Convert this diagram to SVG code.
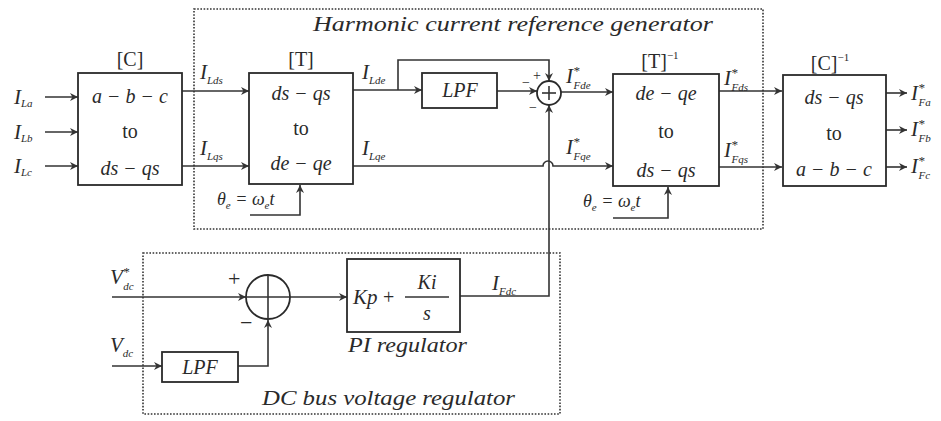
<svg xmlns="http://www.w3.org/2000/svg" width="941" height="421" viewBox="0 0 941 421">
<style>
.blk{fill:#fff;stroke:#2a2a2a;stroke-width:1.8}
.dot{fill:none;stroke:#333;stroke-width:1.6;stroke-dasharray:1.6 1.6}
.ln{fill:none;stroke:#333;stroke-width:1.6}
.ar{fill:none;stroke:#333;stroke-width:1.6;marker-end:url(#ah)}
text{font-family:"Liberation Serif","Times New Roman",serif;fill:#2a2a2a}
.m{font-style:italic;font-size:20px;text-anchor:middle}
.u{font-size:20px;text-anchor:middle}
.I{font-style:italic;font-size:21px}
.sb{font-size:11px}
.sp{font-size:13px}
.sg{font-size:14px}
.cap{font-style:italic;font-size:21px}
</style>
<defs>
<marker id="ah" viewBox="0 0 10 10" refX="10" refY="5" markerWidth="10" markerHeight="8" markerUnits="userSpaceOnUse" orient="auto">
<path d="M0,0 L10,5 L0,10 L3,5 Z" fill="#333"/>
</marker>
</defs>
<rect width="941" height="421" fill="#fff"/>

<g id="frames">
<rect class="dot" x="194" y="9" width="569" height="220"/>
<text class="cap" x="313" y="31" textLength="400" lengthAdjust="spacingAndGlyphs">Harmonic current reference generator</text>
<rect class="dot" x="143" y="253" width="417" height="161"/>
<text class="cap" x="262" y="405" textLength="253" lengthAdjust="spacingAndGlyphs">DC bus voltage regulator</text>
</g>

<g id="connectors">
<line class="ar" x1="45" y1="97" x2="78" y2="97"/>
<line class="ar" x1="45" y1="132" x2="78" y2="132"/>
<line class="ar" x1="45" y1="166" x2="78" y2="166"/>
<line class="ar" x1="182" y1="91" x2="249" y2="91"/>
<line class="ar" x1="182" y1="166" x2="249" y2="166"/>
<line class="ar" x1="353" y1="90" x2="422" y2="90"/>
<polyline class="ar" points="398,90 398,60 549,60 549,81"/>
<line class="ar" x1="497" y1="91" x2="537" y2="91"/>
<line class="ar" x1="561" y1="92" x2="613" y2="92"/>
<path class="ar" d="M353,166 L543,166 A5,5 0 0 1 553,166 L613,166"/>
<polyline class="ar" points="460,296 549,296 549,105"/>
<polyline class="ar" points="250,215 300,215 300,185"/>
<polyline class="ar" points="613,218 668,218 668,187"/>
<line class="ar" x1="719" y1="91" x2="782" y2="91"/>
<line class="ar" x1="719" y1="167" x2="782" y2="167"/>
<line class="ar" x1="886" y1="93" x2="907" y2="93"/>
<line class="ar" x1="886" y1="130" x2="907" y2="130"/>
<line class="ar" x1="886" y1="167" x2="907" y2="167"/>
<line class="ar" x1="112" y1="297" x2="246" y2="297"/>
<line class="ar" x1="290" y1="297" x2="347" y2="297"/>
<line class="ar" x1="112" y1="366" x2="162" y2="366"/>
<polyline class="ar" points="238,366 268,366 268,320"/>
</g>

<g id="inputs">
<text class="I" x="14" y="104">I<tspan class="sb" dy="3">La</tspan></text>
<text class="I" x="14" y="139">I<tspan class="sb" dy="3">Lb</tspan></text>
<text class="I" x="14" y="173">I<tspan class="sb" dy="3">Lc</tspan></text>
</g>

<g id="C">
<rect class="blk" x="78" y="73" width="104" height="112"/>
<text class="u" x="130" y="66">[C]</text>
<text class="m" x="130" y="103">a − b − c</text>
<text class="u" x="130" y="138">to</text>
<text class="m" x="130" y="175">ds − qs</text>
</g>

<g id="T">
<rect class="blk" x="249" y="73" width="104" height="111"/>
<text class="u" x="301" y="66">[T]</text>
<text class="m" x="301" y="100">ds − qs</text>
<text class="u" x="301" y="135">to</text>
<text class="m" x="301" y="170">de − qe</text>
<text class="I" x="200" y="79">I<tspan class="sb" dy="5">Lds</tspan></text>
<text class="I" x="200" y="155">I<tspan class="sb" dy="5">Lqs</tspan></text>
<text class="I" x="362" y="79">I<tspan class="sb" dy="5">Lde</tspan></text>
<text class="I" x="362" y="155">I<tspan class="sb" dy="5">Lqe</tspan></text>
<text style="font-style:italic;font-size:18px" x="217" y="205">θ<tspan class="sb" dy="4">e</tspan><tspan dy="-4"> = ω</tspan><tspan class="sb" dy="4">e</tspan><tspan dy="-4">t</tspan></text>
</g>

<g id="LPF1">
<rect class="blk" x="422" y="73" width="75" height="35"/>
<text class="m" x="460" y="97">LPF</text>
</g>

<g id="sum1">
<circle class="blk" cx="549" cy="93" r="12"/>
<line class="ln" x1="549" y1="86" x2="549" y2="100"/>
<line class="ln" x1="542" y1="93" x2="556" y2="93"/>
<text class="sg" x="522" y="87">−</text>
<text class="sg" x="533" y="80">+</text>
<text class="sg" x="529" y="112">−</text>
<text class="I" x="566" y="83">I<tspan class="sp" dy="-8">*</tspan><tspan class="sb" dx="-6" dy="14">Fde</tspan></text>
<text class="I" x="566" y="154">I<tspan class="sp" dy="-8">*</tspan><tspan class="sb" dx="-6" dy="14">Fqe</tspan></text>
</g>

<g id="Tinv">
<rect class="blk" x="613" y="74" width="106" height="112"/>
<text class="u" x="660" y="68">[T]<tspan class="sb" dy="-9">−1</tspan></text>
<text class="m" x="666" y="100">de − qe</text>
<text class="u" x="666" y="138">to</text>
<text class="m" x="666" y="177">ds − qs</text>
<text style="font-style:italic;font-size:18px" x="583" y="207">θ<tspan class="sb" dy="4">e</tspan><tspan dy="-4"> = ω</tspan><tspan class="sb" dy="4">e</tspan><tspan dy="-4">t</tspan></text>
<text class="I" x="724" y="85">I<tspan class="sp" dy="-8">*</tspan><tspan class="sb" dx="-6" dy="14">Fds</tspan></text>
<text class="I" x="724" y="157">I<tspan class="sp" dy="-8">*</tspan><tspan class="sb" dx="-6" dy="14">Fqs</tspan></text>
</g>

<g id="Cinv">
<rect class="blk" x="783" y="75" width="103" height="111"/>
<text class="u" x="830" y="70">[C]<tspan class="sb" dy="-9">−1</tspan></text>
<text class="m" x="834" y="104">ds − qs</text>
<text class="u" x="834" y="140">to</text>
<text class="m" x="834" y="176">a − b − c</text>
</g>

<g id="outputs">
<text class="I" x="911" y="100">I<tspan class="sp" dy="-8">*</tspan><tspan class="sb" dx="-6" dy="14">Fa</tspan></text>
<text class="I" x="911" y="136">I<tspan class="sp" dy="-8">*</tspan><tspan class="sb" dx="-6" dy="14">Fb</tspan></text>
<text class="I" x="911" y="173">I<tspan class="sp" dy="-8">*</tspan><tspan class="sb" dx="-6" dy="14">Fc</tspan></text>
</g>

<g id="vdc">
<text class="I" x="110" y="284">V<tspan class="sp" dy="-8">*</tspan><tspan class="sb" dx="-6" dy="14">dc</tspan></text>
<text class="I" x="110" y="352">V<tspan class="sb" dy="5">dc</tspan></text>
</g>

<g id="sum2">
<circle class="blk" cx="268" cy="297" r="22"/>
<line class="ln" x1="268" y1="275" x2="268" y2="319"/>
<line class="ln" x1="246" y1="297" x2="290" y2="297"/>
<text style="font-size:22px" x="228" y="286">+</text>
<text style="font-size:22px" x="240" y="330">−</text>
</g>

<g id="LPF2">
<rect class="blk" x="162" y="352" width="76" height="30"/>
<text class="m" x="200" y="374">LPF</text>
</g>

<g id="PI">
<rect class="blk" x="347" y="259" width="113" height="73"/>
<text class="cap" x="353" y="304">Kp</text>
<text style="font-size:20px" x="383" y="304">+</text>
<line class="ln" x1="405" y1="297" x2="449" y2="297"/>
<text class="m" x="427" y="289">Ki</text>
<text class="m" x="427" y="320">s</text>
<text class="cap" x="348" y="352" textLength="119" lengthAdjust="spacingAndGlyphs">PI regulator</text>
<text class="I" x="492" y="290">I<tspan class="sb" dy="5">Fdc</tspan></text>
</g>
</svg>
